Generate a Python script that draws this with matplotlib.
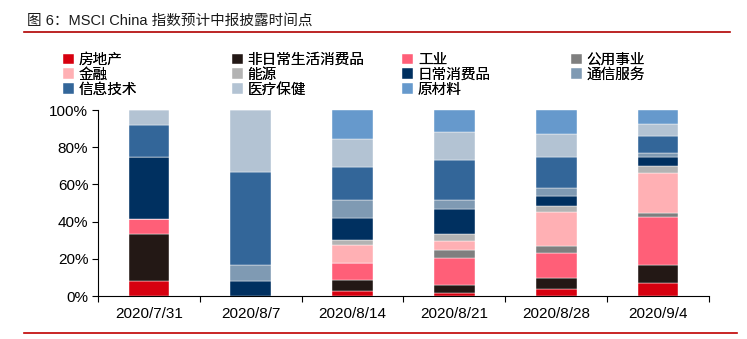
import numpy as np
import matplotlib.pyplot as plt
from matplotlib.lines import Line2D

plt.rcParams['font.family'] = ['Liberation Sans', 'Noto Sans CJK SC', 'DejaVu Sans']

# Dates (x categories)
dates = ['2020/7/31', '2020/8/7', '2020/8/14', '2020/8/21', '2020/8/28', '2020/9/4']

# Sectors, stacked bottom to top
sectors = ['房地产', '非日常生活消费品', '工业', '公用事业', '金融', '能源',
           '日常消费品', '通信服务', '信息技术', '医疗保健', '原材料']

colors = ['#D7000F', '#231815', '#FF5F78', '#7F7F7F', '#FFB0B4', '#B3B3B3',
          '#003060', '#7F9AB3', '#336699', '#B3C3D3', '#6699CC']

# share of companies (%) per date, one list per sector
real_estate = [8.3, 0, 2.9, 1.4, 3.9, 6.8]
cons_disc = [25.0, 0, 5.9, 4.3, 5.9, 10.0]
industrials = [8.3, 0, 9.0, 14.7, 13.4, 25.8]
utilities = [0, 0, 0, 4.3, 3.8, 1.8]
financials = [0, 0, 9.5, 4.7, 18.1, 21.9]
energy = [0, 0, 2.9, 4.1, 3.4, 3.8]
cons_staples = [33.4, 8.3, 11.8, 13.3, 5.4, 4.8]
comm_services = [0, 8.3, 9.7, 4.8, 4.1, 2.0]
info_tech = [16.7, 50.1, 17.7, 21.5, 16.5, 9.3]
health_care = [8.3, 33.3, 15.2, 15.1, 12.4, 6.5]
materials = [0, 0, 15.4, 11.8, 13.1, 7.3]

series = [real_estate, cons_disc, industrials, utilities, financials, energy,
          cons_staples, comm_services, info_tech, health_care, materials]

fig = plt.figure(figsize=(7.47, 3.39), dpi=100)
ax = fig.add_axes([0.1312, 0.1268, 0.8178, 0.5487])

x = np.arange(len(dates))
bottom = np.zeros(len(dates))
handles = {}
for name, vals, col in zip(sectors, series, colors):
    vals = np.array(vals)
    b = ax.bar(x, vals, bottom=bottom, width=0.40, color=col,
               edgecolor='white', linewidth=0.3, label=name)
    handles[name] = b
    bottom += vals

ax.set_xlim(-0.5, len(dates) - 0.5)
ax.set_ylim(0, 100)
ax.set_yticks(np.arange(0, 101, 20))
ax.set_yticklabels([f'{v}%' for v in range(0, 101, 20)], fontsize=11)
ax.set_xticks(x)
ax.set_xticklabels(dates, fontsize=11)
ax.set_xticks(np.arange(-0.5, len(dates)), minor=True)
ax.tick_params(axis='x', which='major', length=0, pad=8)
ax.tick_params(axis='x', which='minor', length=4, direction='out', width=0.8)
ax.tick_params(axis='y', length=4, direction='out', width=0.8, pad=3)
for s in ['top', 'right']:
    ax.spines[s].set_visible(False)
ax.spines['left'].set_linewidth(0.8)
ax.spines['bottom'].set_linewidth(0.8)

# legend: four columns placed at fixed positions
legend_cols = [['房地产', '金融', '信息技术'],
               ['非日常生活消费品', '能源', '医疗保健'],
               ['工业', '日常消费品', '原材料'],
               ['公用事业', '通信服务']]
col_x = [0.075, 0.301, 0.529, 0.755]
for names, lx in zip(legend_cols, col_x):
    leg = fig.legend([handles[n] for n in names], names, ncol=1, loc='upper left',
                     bbox_to_anchor=(lx, 0.865), frameon=False, fontsize=10.5,
                     handlelength=0.75, handleheight=0.75, handletextpad=0.3,
                     labelspacing=0.05, borderpad=0)
    fig.add_artist(leg)

# title and red rules
fig.text(0.036, 0.938, '图 6：MSCI China 指数预计中报披露时间点', fontsize=10.5,
         color='#1a1a1a', va='center', ha='left')
fig.add_artist(Line2D([0.032, 0.977], [0.907, 0.907], color='#B00000', linewidth=1.2))
fig.add_artist(Line2D([0.032, 0.987], [0.018, 0.018], color='#C00000', linewidth=1.2))

fig.savefig('out.png', dpi=100)
